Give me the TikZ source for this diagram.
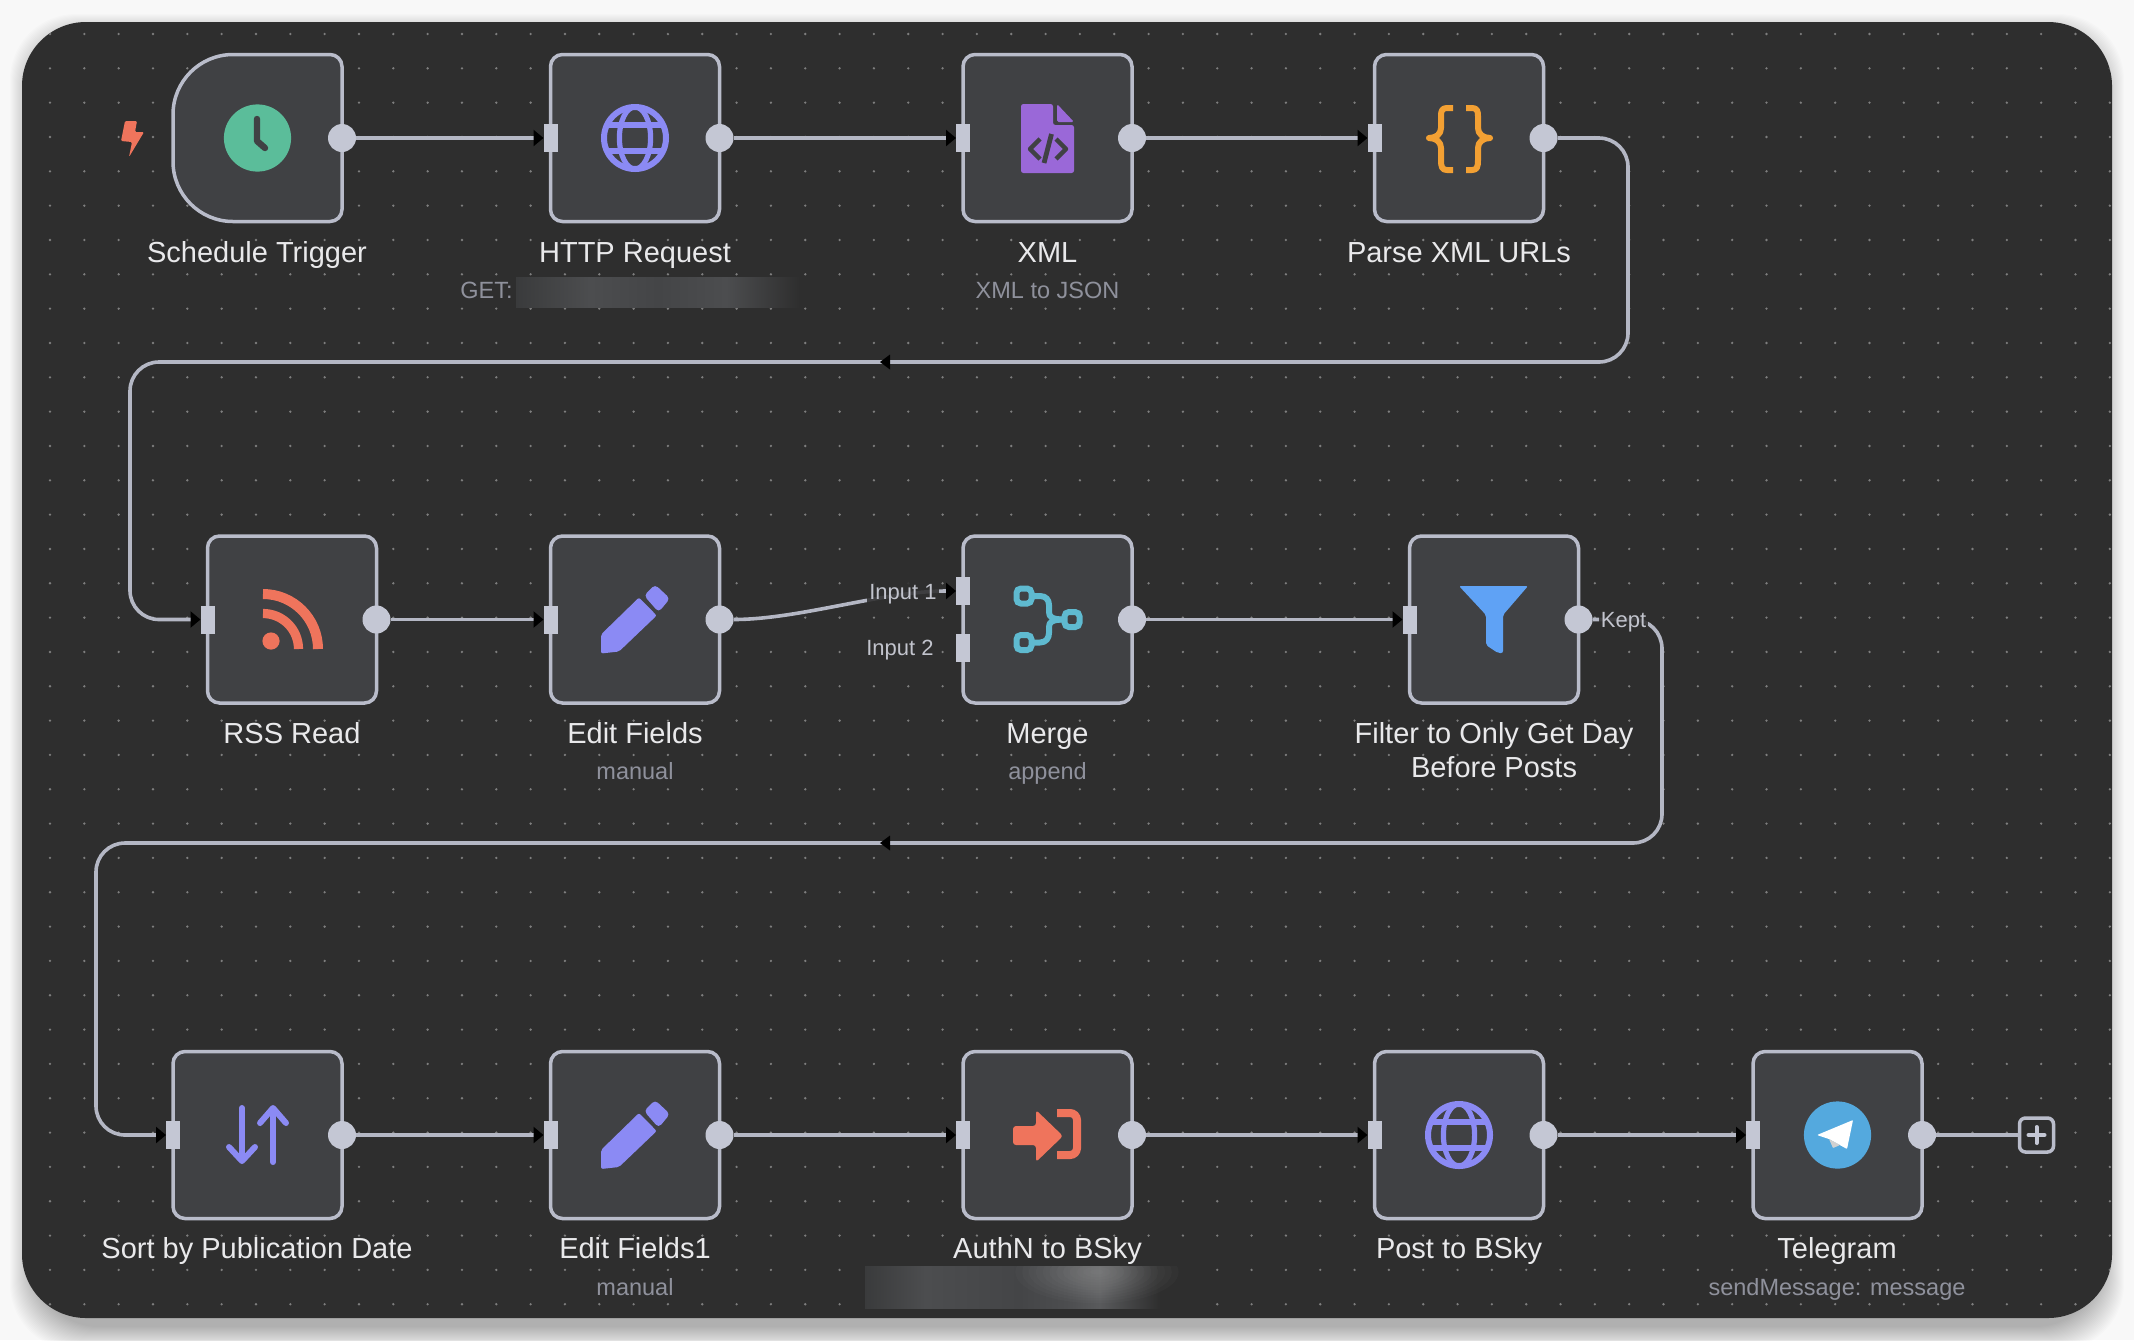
\documentclass[tikz,border=0pt]{standalone}
\usepackage{fontspec}
\setmainfont{Liberation Sans}
\usetikzlibrary{arrows.meta}
\definecolor{pagebg}{HTML}{F8F8F8}
\definecolor{panelbg}{HTML}{2E2E2E}
\definecolor{boxbg}{HTML}{404144}
\definecolor{boxline}{HTML}{B9BCCA}
\definecolor{portcol}{HTML}{C4C7D4}
\definecolor{edgecol}{HTML}{B4B7C4}
\definecolor{dotcol}{HTML}{7E7E7E}
\definecolor{titlecol}{HTML}{E9E9EB}
\definecolor{subcol}{HTML}{8F919C}
\definecolor{inlabcol}{HTML}{C2C4CD}
\definecolor{coral}{HTML}{EF745C}
\definecolor{violet}{HTML}{8B8AF4}
\definecolor{xmlpurple}{HTML}{9A68D8}
\definecolor{bracecol}{HTML}{F3A033}
\definecolor{tealcol}{HTML}{5FBAD0}
\definecolor{funnelcol}{HTML}{5FA2F5}
\definecolor{clockcol}{HTML}{5BBD9A}
\definecolor{tgcol}{HTML}{54A9DE}
\definecolor{blurA}{HTML}{3A3B3C}
\definecolor{blurB}{HTML}{4C4D4F}
\definecolor{blurC}{HTML}{444547}
\definecolor{blurD}{HTML}{595A5C}
\pgfdeclarehorizontalshading{httpblur}{100bp}{color(0bp)=(blurA); color(25bp)=(blurA); color(38bp)=(blurB); color(50bp)=(blurC); color(62bp)=(blurB); color(75bp)=(panelbg); color(100bp)=(panelbg)}
\pgfdeclarehorizontalshading{authblur}{100bp}{color(0bp)=(blurA); color(25bp)=(blurA); color(34bp)=(blurB); color(48bp)=(blurC); color(55bp)=(blurB); color(60bp)=(blurD); color(69bp)=(panelbg); color(75bp)=(panelbg); color(100bp)=(panelbg)}
\tikzset{
  flowbox/.style={draw=boxline,fill=boxbg,line width=1.75pt,rounded corners=6pt,minimum width=84.5pt,minimum height=83.5pt,inner sep=0pt,outer sep=0pt},
  anchorbox/.style={minimum width=84.5pt,minimum height=83.5pt,inner sep=0pt,outer sep=0pt},
  outport/.style={circle,fill=portcol,minimum size=14pt,inner sep=0pt,outer sep=0pt},
  inport/.style={rectangle,fill=portcol,minimum width=7pt,minimum height=14pt,inner sep=0pt,outer sep=0pt},
  flowedge/.style={draw=edgecol,line width=1.8pt,-{Triangle[length=5pt,width=8pt,color=black]}},
  plainedge/.style={draw=edgecol,line width=1.8pt},
  routed/.style={rounded corners=14.5pt},
  titlelabel/.style={text=titlecol,font=\fontsize{14.5pt}{17.5pt}\selectfont,align=center,inner sep=0pt,anchor=base},
  sublabel/.style={text=subcol,font=\fontsize{11.75pt}{14pt}\selectfont,inner sep=0pt,anchor=base},
  portlabel/.style={text=inlabcol,font=\fontsize{11pt}{13pt}\selectfont,inner sep=1pt,fill=panelbg,fill opacity=.88,text opacity=1,anchor=base},
  globeicon/.pic={
    \draw[violet,line width=3pt] (0,0) circle[radius=15.5pt];
    \draw[violet,line width=2.6pt] (0,0) ellipse[x radius=7.8pt,y radius=15.5pt];
    \draw[violet,line width=2.6pt] (-29,-13) -- (29,-13) (-29,13) -- (29,13);
  },
  pencilicon/.pic={
    \fill[violet,rounded corners=1pt] (-34,34) -- (-34,15) -- (4,-22) -- (21.7,-4) -- (-16,32) -- cycle;
    \fill[violet,rounded corners=2pt] (9,-24) -- (20,-35) -- (35,-21) -- (23.6,-7.3) -- cycle;
  },
}
\newcommand{\midarrow}[2]{\fill[black] (#1-5,#2) -- (#1+5,#2-7.5) -- (#1+5,#2+7.5) -- cycle;}
\begin{document}
\begin{tikzpicture}[x=0.5pt,y=-0.5pt]
\useasboundingbox (0,0) rectangle (2134,1340);
\fill[pagebg] (0,0) rectangle (2134,1340);
% panel shadow
\foreach \i in {1,...,24}{
  \fill[black,opacity=.011,rounded corners=33pt] ({34-\i},{38-\i}) rectangle ({2100+\i},{1326+\i});
}
% panel
\fill[panelbg,rounded corners=32pt] (22,22) rectangle (2112,1318);
% dot grid
\begin{scope}
\clip[rounded corners=32pt] (22,22) rectangle (2112,1318);
\fill[dotcol] \foreach \n in {0,...,60}{\foreach \m in {0,...,37}{ ({50+34.33*\n},{34+34.33*\m}) circle[radius=.65pt] }};
\end{scope}
% blurred subtitles
\shade[shading=httpblur] (516,277) rectangle (800,307);
\begin{scope}
\clip (865,1266) rectangle (1200,1308);
\shade[shading=authblur] (865,1266) rectangle (1200,1308);
\foreach \r in {1,...,12}{
  \fill[white,opacity=.018] (1097,1272) ellipse[x radius={\r*3.4pt},y radius={\r*1.3pt}];
}
\end{scope}
% boxes
\node[anchorbox] (trigger) at (257.5,138) {};
\draw[draw=boxline,fill=boxbg,line width=1.75pt]
  (trigger.north) -- ([xshift=-6pt]trigger.north east) arc[start angle=90,end angle=0,radius=6pt]
  -- ([yshift=6pt]trigger.south east) arc[start angle=0,end angle=-90,radius=6pt]
  -- ([xshift=30pt]trigger.south west) arc[start angle=270,end angle=180,radius=30pt]
  -- ([yshift=-30pt]trigger.north west) arc[start angle=180,end angle=90,radius=30pt] -- cycle;
\node[flowbox] (http) at (635,138) {};
\node[flowbox] (xml) at (1047.5,138) {};
\node[flowbox] (parse) at (1459,138) {};
\node[flowbox] (rss) at (292,619.5) {};
\node[flowbox] (edit) at (635,619.5) {};
\node[flowbox] (merge) at (1047.5,619.5) {};
\node[flowbox] (filter) at (1494,619.5) {};
\node[flowbox] (sort) at (257.5,1135) {};
\node[flowbox] (editb) at (635,1135) {};
\node[flowbox] (auth) at (1047.5,1135) {};
\node[flowbox] (post) at (1459,1135) {};
\node[flowbox] (tg) at (1837.5,1135) {};
% ports
\foreach \b in {trigger,http,xml,parse,rss,edit,merge,filter,sort,editb,auth,post,tg}{
  \node[outport] (\b out) at (\b.east) {};
}
\foreach \b in {http,xml,parse,rss,edit,filter,sort,editb,auth,post,tg}{
  \node[inport] (\b in) at (\b.west) {};
}
\node[inport] (mergeinA) at (963,591) {};
\node[inport] (mergeinB) at (963,648) {};
\node[draw=boxline,fill=panelbg,line width=1.75pt,rounded corners=3pt,minimum size=17pt,inner sep=0pt,outer sep=0pt] (plusbox) at (2036.5,1135) {};
\draw[portcol,line width=2pt,line cap=round] (plusbox.center) ++(-8,0) -- ++(16,0) (plusbox.center) ++(0,-8) -- ++(0,16);
% routing coordinates
\coordinate (ra) at (1628,138);
\coordinate (rb) at (1628,362);
\coordinate (rc) at (130,362);
\coordinate (rd) at (130,619.5);
\coordinate (fa) at (1662,619.5);
\coordinate (fb) at (1662,843);
\coordinate (fc) at (96,843);
\coordinate (fd) at (96,1135);
% connectors
\draw[flowedge] (triggerout) -- (httpin);
\draw[flowedge] (httpout) -- (xmlin);
\draw[flowedge] (xmlout) -- (parsein);
\draw[flowedge,routed] (parseout) -- (ra) -- (rb) -- (rc) -- (rd) -- (rssin);
\draw[flowedge] (rssout) -- (editin);
\draw[flowedge] (editout) .. controls +(80,0) and +(-80,0) .. (mergeinA);
\draw[flowedge] (mergeout) -- (filterin);
\draw[flowedge,routed] (filterout) -- (fa) -- (fb) -- (fc) -- (fd) -- (sortin);
\draw[flowedge] (sortout) -- (editbin);
\draw[flowedge] (editbout) -- (authin);
\draw[flowedge] (authout) -- (postin);
\draw[flowedge] (postout) -- (tgin);
\draw[plainedge] (tgout) -- (plusbox);
\midarrow{885}{362}
\midarrow{885}{843}
% connector labels
\node[portlabel] (lbla) at (903,599) {Input 1};
\node[portlabel] (lblb) at (900,655) {Input 2};
\node[portlabel] (lblk) at (1623.5,627) {Kept};
% icons
\fill[coral,rounded corners=.6pt] (125,121) -- (137,121) -- (135,132) -- (144,132) -- (129,157) -- (132,142) -- (121,141) -- cycle;
\fill[clockcol] (trigger.center) circle[radius=16.8pt];
\draw[boxbg,line width=3.2pt,line join=round,line cap=round] (257,119) -- (257,141) -- (265,148);
\pic at (http.center) {globeicon};
\pic at (post.center) {globeicon};
% xml file
\fill[xmlpurple,rounded corners=1.2pt] (1021,104) -- (1053,104) -- (1053,125) -- (1074,125) -- (1074,173) -- (1021,173) -- cycle;
\fill[xmlpurple,rounded corners=.8pt] (1057,104) -- (1074,122) -- (1057,122) -- cycle;
\draw[boxbg,line width=2.2pt,line join=round] (1040,139) -- (1030,149) -- (1040,159) (1056,139) -- (1066,149) -- (1056,159);
\draw[boxbg,line width=2.4pt] (1051.5,134) -- (1044,163);
% braces
\draw[bracecol,line width=3pt,line join=round] (1453,108) -- (1447,108) .. controls (1442,108) and (1441,111) .. (1441,116) -- (1441,128) .. controls (1441,134) and (1436,138) .. (1429,138) .. controls (1436,138) and (1441,142) .. (1441,148) -- (1441,160) .. controls (1441,167) and (1442,170) .. (1447,170) -- (1453,170);
\draw[bracecol,line width=3pt,line join=round] (1466,108) -- (1472,108) .. controls (1477,108) and (1478,111) .. (1478,116) -- (1478,128) .. controls (1478,134) and (1483,138) .. (1490,138) .. controls (1483,138) and (1478,142) .. (1478,148) -- (1478,160) .. controls (1478,167) and (1477,170) .. (1472,170) -- (1466,170);
% rss
\fill[coral] (271,641) circle[radius=4.3pt];
\draw[coral,line width=5pt] (263,594) arc[start angle=90,end angle=0,radius=27.5pt];
\draw[coral,line width=4.6pt] (263,613.5) arc[start angle=90,end angle=0,radius=17.75pt];
% pencils
\pic at (edit.center) {pencilicon};
\pic at (editb.center) {pencilicon};
% merge
\draw[tealcol,line width=3pt,rounded corners=2.2pt] (1016.5,588.5) rectangle (1031.5,603.5);
\draw[tealcol,line width=3pt,rounded corners=2.2pt] (1016.5,635) rectangle (1031.5,650);
\draw[tealcol,line width=3pt,rounded corners=2.2pt] (1064.5,612) rectangle (1079.5,627);
\draw[tealcol,line width=3pt,line join=round] (1031.5,596) -- (1040,596) .. controls (1046,596) and (1049,600) .. (1049,605) -- (1049,612) .. controls (1049,617) and (1052,619.5) .. (1064.5,619.5);
\draw[tealcol,line width=3pt,line join=round] (1031.5,642.5) -- (1040,642.5) .. controls (1046,642.5) and (1049,638) .. (1049,633) -- (1049,627) .. controls (1049,622) and (1052,619.5) .. (1064.5,619.5);
% funnel
\fill[funnelcol,rounded corners=1pt] (1459,586) -- (1528,586) -- (1503,615) -- (1503,653) -- (1498,653) -- (1486,645) -- (1486,615) -- cycle;
% sort
\draw[violet,line width=3pt,line cap=round] (242,1108) -- (242,1160);
\draw[violet,line width=3pt,line cap=round,line join=round] (229,1147) -- (242,1161) -- (255,1147);
\draw[violet,line width=3pt,line cap=round] (273,1162) -- (273,1109);
\draw[violet,line width=3pt,line cap=round,line join=round] (260,1123) -- (273,1108) -- (286,1123);
% auth
\fill[coral,rounded corners=1.5pt] (1013,1126) -- (1036,1126) -- (1036,1110) -- (1063,1136) -- (1036,1162) -- (1036,1145) -- (1013,1145) -- cycle;
\draw[coral,line width=4pt,rounded corners=3.5pt] (1057,1113) -- (1077,1113) -- (1077,1155) -- (1057,1155);
% telegram
\fill[tgcol] (tg.center) circle[radius=16.8pt];
\fill[white,rounded corners=.4pt] (1853,1120) -- (1817,1135) -- (1829,1139) -- (1847,1149) -- cycle;
\fill[black!18!white,rounded corners=.3pt] (1829,1139) -- (1833,1148) -- (1840,1145) -- cycle;
% titles
\node[titlelabel] (ltrigger) at (257,262) {Schedule Trigger};
\node[titlelabel] (lhttp) at (635,262) {HTTP Request};
\node[sublabel,anchor=base east] (lhttps) at (513,298) {GET:};
\node[titlelabel] (lxml) at (1047.5,262) {XML};
\node[sublabel] (lxmls) at (1047.5,298) {XML to JSON};
\node[titlelabel] (lparse) at (1459,262) {Parse XML URLs};
\node[titlelabel] (lrss) at (292,743) {RSS Read};
\node[titlelabel] (ledit) at (635,743) {Edit Fields};
\node[sublabel] (ledits) at (635,779) {manual};
\node[titlelabel] (lmerge) at (1047.5,743) {Merge};
\node[sublabel] (lmerges) at (1047.5,779) {append};
\node[titlelabel] (lfilter) at (1494,743) {Filter to Only Get Day};
\node[titlelabel] (lfilterb) at (1494,777.5) {Before Posts};
\node[titlelabel] (lsort) at (257,1258) {Sort by Publication Date};
\node[titlelabel] (leditb) at (635,1258) {Edit Fields1};
\node[sublabel] (leditbs) at (635,1295) {manual};
\node[titlelabel] (lauth) at (1047.5,1258) {AuthN to BSky};
\node[titlelabel] (lpost) at (1459,1258) {Post to BSky};
\node[titlelabel] (ltg) at (1837,1258) {Telegram};
\node[sublabel] (ltgs) at (1837,1295) {sendMessage: message};
\end{tikzpicture}
\end{document}
